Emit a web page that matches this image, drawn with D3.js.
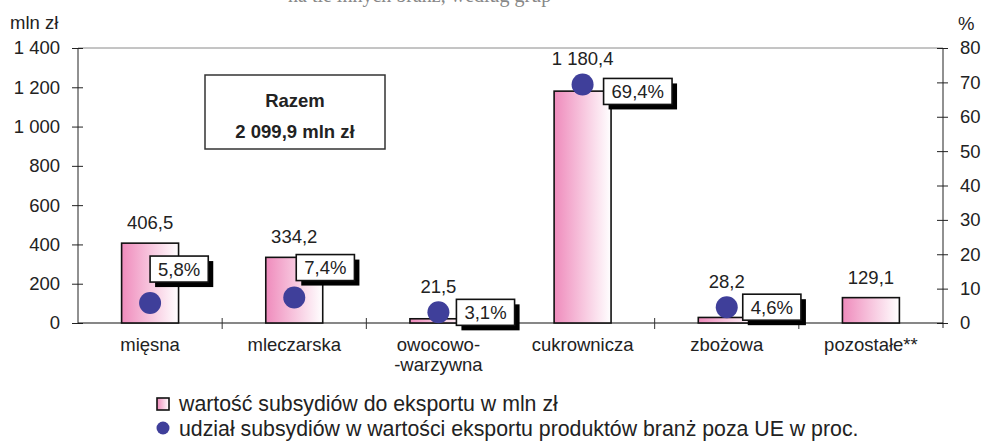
<!DOCTYPE html>
<html>
<head>
<meta charset="utf-8">
<script src="https://cdn.jsdelivr.net/npm/d3@7"></script>
<style>
  body { margin:0; background:#fff; }
  svg { display:block; font-family:"Liberation Sans", Arial, sans-serif; }
</style>
</head>
<body>
<svg></svg>
<script>
// data
var categories = ["mięsna", "mleczarska", "owocowo-\n-warzywna", "cukrownicza", "zbożowa", "pozostałe**"];
var subsidies = [406.5, 334.2, 21.5, 1180.4, 28.2, 129.1];
var shares = [5.8, 7.4, 3.1, 69.4, 4.6, null];
var leftTicks = [0, 200, 400, 600, 800, 1000, 1200, 1400];
var rightTicks = [0, 10, 20, 30, 40, 50, 60, 70, 80];
var totalLabel = ["Razem", "2 099,9 mln zł"];
var legendLabels = ["wartość subsydiów do eksportu w mln zł",
                    "udział subsydiów w wartości eksportu produktów branż poza UE w proc."];

// manual placement of the percent boxes (like moved excel labels)
var boxOffsets = [[0, -34], [2, -30], [18, 0], [21, 7], [16, 0], null];

var screen = { width:983, height:443 };
var margins = { top:48, bottom:120, left:78, right:40 };
var plotBottom = 323;

var svg = d3.select("svg")
  .attr("width", screen.width)
  .attr("height", screen.height);

var fmt = function(v) {
  var s = v.toFixed(1).replace(".", ",");
  var parts = s.split(",");
  parts[0] = parts[0].replace(/\B(?=(\d{3})+(?!\d))/g, " ");
  return parts.join(",");
};

var defs = svg.append("defs");
var grad = defs.append("linearGradient").attr("id", "pink")
  .attr("x1", "0%").attr("x2", "100%").attr("y1", "0%").attr("y2", "0%");
grad.append("stop").attr("offset", "0%").attr("stop-color", "#ef8bbc");
grad.append("stop").attr("offset", "100%").attr("stop-color", "#ffffff");

// title, mostly cut off by the top edge in the source
svg.append("text")
  .attr("x", 288).attr("y", 2)
  .attr("font-family", "Liberation Serif, serif")
  .attr("font-size", 20)
  .attr("fill", "#888")
  .text("na tle innych branż, według grup");

var xScale = d3.scaleBand().domain(d3.range(categories.length))
  .range([margins.left, screen.width - margins.right]);
var yLeft = d3.scaleLinear().domain([0, 1400]).range([plotBottom, margins.top]);
var yRight = d3.scaleLinear().domain([0, 80]).range([plotBottom, margins.top]);
var xRight = screen.width - margins.right;

// top border
svg.append("line")
  .attr("x1", margins.left).attr("x2", xRight)
  .attr("y1", margins.top).attr("y2", margins.top)
  .attr("stroke", "#8a8a8a").attr("stroke-width", 1);

// axes
var yAxisL = d3.axisLeft(yLeft).tickValues(leftTicks)
  .tickSize(6).tickPadding(12)
  .tickFormat(function(d){ return fmt(d).replace(",0", ""); });
var gL = svg.append("g").attr("transform", "translate(" + margins.left + ",0)").call(yAxisL);
gL.selectAll(".tick line").attr("x1", -6).attr("x2", 5);

var yAxisR = d3.axisRight(yRight).tickValues(rightTicks)
  .tickSize(6).tickPadding(11);
var gR = svg.append("g").attr("transform", "translate(" + xRight + ",0)").call(yAxisR);
gR.selectAll(".tick line").attr("x1", -6).attr("x2", 5);

[gL, gR].forEach(function(g) {
  g.select(".domain").remove();
  g.selectAll(".tick text").attr("font-size", 18.5).attr("fill", "#222")
    .attr("font-family", "Liberation Sans, Arial, sans-serif");
  g.selectAll(".tick line").attr("stroke", "#222");
});
svg.append("line").attr("x1", margins.left).attr("x2", margins.left)
  .attr("y1", margins.top).attr("y2", plotBottom).attr("stroke", "#222");
svg.append("line").attr("x1", xRight).attr("x2", xRight)
  .attr("y1", margins.top).attr("y2", plotBottom + 5).attr("stroke", "#222");

// x axis
svg.append("line")
  .attr("x1", margins.left).attr("x2", xRight)
  .attr("y1", plotBottom).attr("y2", plotBottom)
  .attr("stroke", "#111").attr("stroke-width", 1.2);
svg.selectAll(".xtick")
  .data(d3.range(1, categories.length))
  .enter().append("line")
  .attr("x1", function(i){ return xScale(i); })
  .attr("x2", function(i){ return xScale(i); })
  .attr("y1", plotBottom - 5).attr("y2", plotBottom + 6)
  .attr("stroke", "#333");

var catText = svg.selectAll(".cat")
  .data(categories)
  .enter().append("text")
  .attr("text-anchor", "middle")
  .attr("font-size", 18.5).attr("fill", "#222")
  .attr("transform", function(d, i){
    return "translate(" + (xScale(i) + xScale.bandwidth() / 2) + ",351)";
  });
catText.selectAll("tspan")
  .data(function(d){ return d.split("\n"); })
  .enter().append("tspan")
  .attr("x", 0).attr("dy", function(d, j){ return j ? 20 : 0; })
  .text(function(d){ return d; });

// bars
var barW = xScale.bandwidth() * 0.395;
svg.selectAll(".bar")
  .data(subsidies)
  .enter().append("rect")
  .attr("x", function(d, i){ return xScale(i) + (xScale.bandwidth() - barW) / 2; })
  .attr("y", function(d){ return yLeft(d); })
  .attr("width", barW)
  .attr("height", function(d){ return plotBottom - yLeft(d); })
  .attr("fill", "url(#pink)")
  .attr("stroke", "#111").attr("stroke-width", 1.6);

// dots
var r = 11;
var cx = function(i){ return xScale(i) + xScale.bandwidth() / 2; };
svg.selectAll(".dot")
  .data(shares)
  .enter().filter(function(d){ return d !== null; })
  .append("circle")
  .attr("cx", function(d, i){ return cx(i); })
  .attr("cy", function(d){ return yRight(d); })
  .attr("r", r)
  .attr("fill", "#3f3f9a");

// value labels
svg.selectAll(".val")
  .data(subsidies)
  .enter().append("text")
  .attr("text-anchor", "middle")
  .attr("font-size", 18.5).attr("fill", "#222")
  .attr("x", function(d, i){ return cx(i); })
  .attr("y", function(d, i){
    var top = yLeft(d) - 14;
    if (shares[i] !== null) top = Math.min(top, yRight(shares[i]) - r - 8);
    return top;
  })
  .text(function(d){ return fmt(d); });

// percent boxes
shares.forEach(function(s, i) {
  if (s === null) return;
  var off = boxOffsets[i];
  var txt = fmt(s) + "%";
  var g = svg.append("g")
    .attr("transform", "translate(" + (cx(i) + off[0]) + "," + (yRight(s) + off[1]) + ")");
  var t = g.append("text").attr("font-size", 18.5).attr("fill", "#222")
    .attr("x", 8).attr("y", 6.5).text(txt);
  var w = t.node().getComputedTextLength() + 16;
  var h = 26;
  g.insert("rect", "text").attr("x", 5).attr("y", -h / 2 + 5)
    .attr("width", w).attr("height", h).attr("fill", "#000");
  g.insert("rect", "text").attr("x", 0).attr("y", -h / 2)
    .attr("width", w).attr("height", h).attr("fill", "#fff")
    .attr("stroke", "#111").attr("stroke-width", 1.6);
});

// total box
var box = svg.append("g").attr("transform", "translate(205,75)");
box.append("rect").attr("width", 180).attr("height", 74)
  .attr("fill", "#fff").attr("stroke", "#333").attr("stroke-width", 1.5);
box.selectAll("text")
  .data(totalLabel)
  .enter().append("text")
  .attr("x", 90).attr("y", function(d, i){ return 32 + i * 31; })
  .attr("text-anchor", "middle")
  .attr("font-size", 18.5).attr("font-weight", "bold").attr("fill", "#222")
  .text(function(d){ return d; });

// axis titles
svg.append("text").attr("x", 10).attr("y", 29)
  .attr("font-size", 18.5).attr("fill", "#222").text("mln zł");
svg.append("text").attr("x", 958).attr("y", 30)
  .attr("font-size", 18.5).attr("fill", "#222").text("%");

// legend
var legend = svg.append("g").attr("transform", "translate(157,0)");
legend.append("rect").attr("x", 0).attr("y", 398).attr("width", 12).attr("height", 12)
  .attr("fill", "url(#pink)").attr("stroke", "#111").attr("stroke-width", 1.6);
legend.append("circle").attr("cx", 6).attr("cy", 428).attr("r", 6.5).attr("fill", "#3f3f9a");
legend.selectAll(".lt")
  .data(legendLabels)
  .enter().append("text")
  .attr("x", 22).attr("y", function(d, i){ return 410.5 + i * 25.5; })
  .attr("font-size", 21.3).attr("fill", "#222")
  .text(function(d){ return d; });
</script>
</body>
</html>
